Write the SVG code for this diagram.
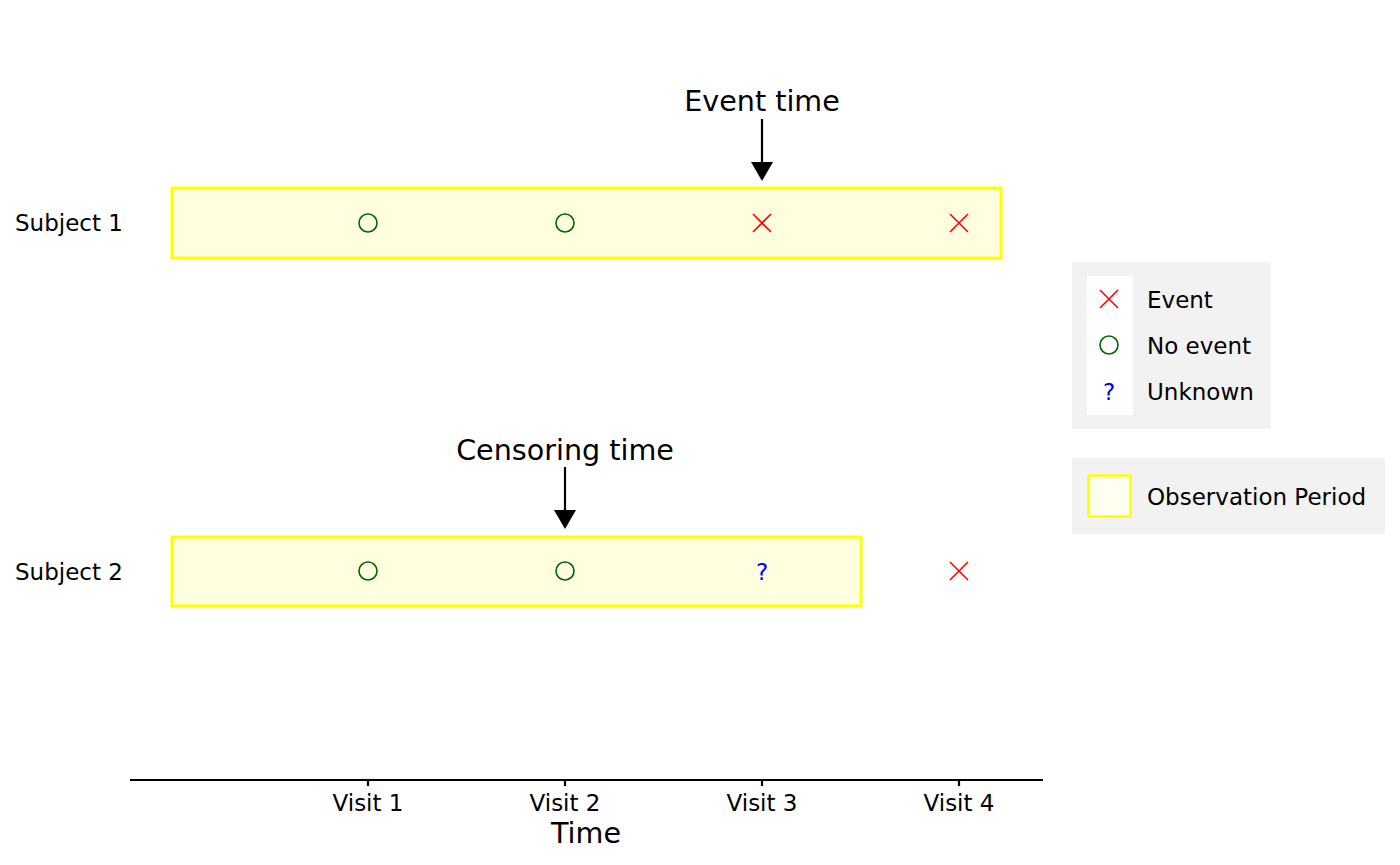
<svg xmlns="http://www.w3.org/2000/svg" width="1400" height="865" viewBox="0 0 1400 865">
<style>
text{font-family:"DejaVu Sans",sans-serif;fill:#000}
.lab{font-size:23px}
.big{font-size:28.6px}
.obs{fill:#FFFFE0;stroke:#FFFF00;stroke-width:3}
.ne{fill:none;stroke:#006400;stroke-width:1.6}
.ev{stroke:#FF0000;stroke-width:1.6;fill:none}
.unk{fill:#0000FF;font-size:23px}
.arr{stroke:#000;stroke-width:2.2;fill:none}
</style>
<defs>
<g id="cross"><path d="M-9,-9 L9,9 M-9,9 L9,-9"/></g>
</defs>
<rect width="1400" height="865" fill="#fff"/>
<g id="subject1">
<text class="lab" x="15" y="231">Subject 1</text>
<rect class="obs" x="172" y="188" width="829" height="70"/>
<circle class="ne" cx="368" cy="223" r="9"/>
<circle class="ne" cx="565" cy="223" r="9"/>
<use href="#cross" class="ev" x="762" y="223"/>
<use href="#cross" class="ev" x="959" y="223"/>
</g>
<g id="subject2">
<text class="lab" x="15" y="580">Subject 2</text>
<rect class="obs" x="172" y="537" width="689" height="69"/>
<circle class="ne" cx="368" cy="571" r="9"/>
<circle class="ne" cx="565" cy="571" r="9"/>
<text class="unk" x="762" y="580" text-anchor="middle">?</text>
<use href="#cross" class="ev" x="959" y="571"/>
</g>
<g id="event-label">
<text class="big" x="762" y="111" text-anchor="middle">Event time</text>
</g>
<g id="censor-label">
<text class="big" x="565" y="460" text-anchor="middle">Censoring time</text>
</g>
<g id="connectors">
<line class="arr" x1="762" y1="119" x2="762" y2="170"/>
<path d="M751,162 L773,162 L762,181 z" fill="#000"/>
<line class="arr" x1="565" y1="467" x2="565" y2="519"/>
<path d="M554,510 L576,510 L565,529 z" fill="#000"/>
</g>
<g id="axis">
<line x1="130" y1="780" x2="1043" y2="780" stroke="#000" stroke-width="2.2"/>
<g stroke="#000" stroke-width="2.2">
<line x1="368" y1="780" x2="368" y2="786"/>
<line x1="565" y1="780" x2="565" y2="786"/>
<line x1="762" y1="780" x2="762" y2="786"/>
<line x1="959" y1="780" x2="959" y2="786"/>
</g>
<text class="lab" x="368" y="811" text-anchor="middle">Visit 1</text>
<text class="lab" x="565" y="811" text-anchor="middle">Visit 2</text>
<text class="lab" x="762" y="811" text-anchor="middle">Visit 3</text>
<text class="lab" x="959" y="811" text-anchor="middle">Visit 4</text>
<text class="big" x="586" y="843" text-anchor="middle">Time</text>
</g>
<g id="legend-outcome">
<rect x="1072" y="262" width="199" height="167" fill="#F2F2F2"/>
<rect x="1087" y="276" width="46" height="139" fill="#fff"/>
<use href="#cross" class="ev" x="1109" y="299"/>
<circle class="ne" cx="1109" cy="345" r="9"/>
<text class="unk" x="1109" y="400" text-anchor="middle">?</text>
<text class="lab" x="1147" y="308">Event</text>
<text class="lab" x="1147" y="354">No event</text>
<text class="lab" x="1147" y="400">Unknown</text>
</g>
<g id="legend-period">
<rect x="1072" y="458" width="313" height="76" fill="#F2F2F2"/>
<rect x="1088.5" y="475.5" width="42" height="41" fill="#FFFFF0" stroke="#FFFF00" stroke-width="2.5"/>
<text class="lab" x="1147" y="505">Observation Period</text>
</g>
</svg>
